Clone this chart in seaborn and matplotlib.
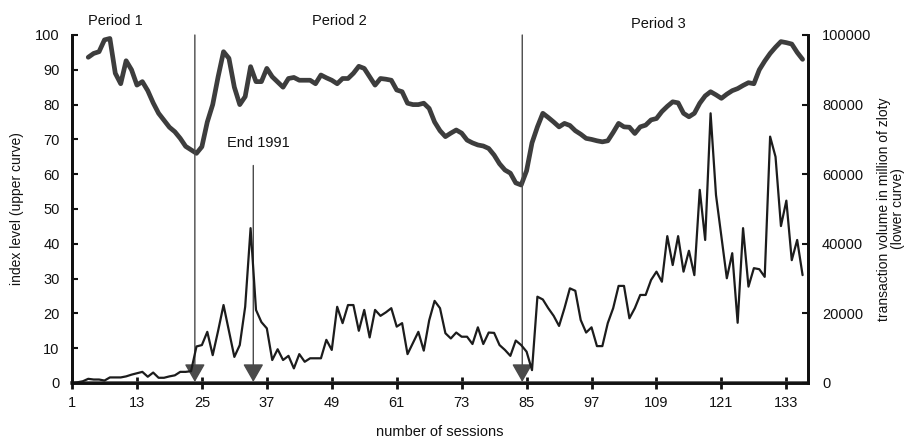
import numpy as np
import pandas as pd
import seaborn as sns
import matplotlib.pyplot as plt

sns.set_theme(style="white")
plt.rcParams['font.family'] = ['Liberation Sans', 'DejaVu Sans']

# ---- data ----
index_sessions = list(range(4, 137))
index_level = [
    93.6, 94.7, 95.2, 98.6, 99.0, 89.0, 86.0, 92.6, 90.0, 85.6,   # 4-13
    86.6, 84.0, 80.5, 77.5, 75.5, 73.5, 72.2, 70.3, 68.0, 67.0,   # 14-23
    66.0, 67.9, 75.0, 80.0, 88.0, 95.2, 93.3, 85.0, 80.0, 82.3,   # 24-33
    90.9, 86.6, 86.6, 90.4, 88.0, 86.5, 85.0, 87.5, 87.8, 87.0,   # 34-43
    87.0, 87.0, 86.0, 88.5, 87.7, 87.0, 86.0, 87.5, 87.5, 89.0,   # 44-53
    91.0, 90.4, 88.0, 85.6, 87.5, 87.3, 87.0, 84.2, 83.7, 80.4,   # 54-63
    80.0, 80.0, 80.4, 78.9, 75.0, 72.5, 70.8, 71.8, 72.7, 71.8,   # 64-73
    69.8, 69.0, 68.4, 68.1, 67.4, 65.5, 63.0, 61.2, 60.3, 57.5,   # 74-83
    56.9, 61.0, 69.0, 73.6, 77.5, 76.3, 75.0, 73.6, 74.6, 74.0,   # 84-93
    72.5, 71.5, 70.3, 70.0, 69.6, 69.3, 69.6, 72.0, 74.6, 73.6,   # 94-103
    73.5, 71.7, 73.6, 74.1, 75.6, 76.0, 78.0, 79.5, 80.8, 80.5,   # 104-113
    77.5, 76.5, 77.5, 80.4, 82.5, 83.7, 82.8, 81.8, 83.0, 84.0,   # 114-123
    84.6, 85.5, 86.3, 86.0, 90.0, 92.5, 94.7, 96.5, 98.1, 97.8,   # 124-133
    97.4, 95.0, 93.0,                                             # 134-136
]
volume_sessions = list(range(1, 137))
volume = [
    0, 200, 500, 1200, 1000, 1000, 700, 1600, 1600, 1600,                 # 1-10
    1900, 2400, 2800, 3200, 1800, 3000, 1500, 1500, 1900, 2200,           # 11-20
    3200, 3200, 3400, 10500, 10900, 14700, 8000, 15000, 22400, 15000,     # 21-30
    7500, 10900, 21900, 44500, 21000, 17500, 15700, 6600, 9700, 6600,     # 31-40
    7800, 4200, 8300, 6100, 7100, 7100, 7100, 12400, 9500, 21900,         # 41-50
    17200, 22400, 22400, 15000, 21000, 13100, 21000, 19300, 20300, 21500, # 51-60
    16200, 17200, 8300, 11500, 14700, 9300, 18000, 23600, 21500, 14300,   # 61-70
    12800, 14500, 13300, 13300, 11200, 16000, 11200, 14500, 14400, 10900, # 71-80
    9500, 7800, 12200, 10900, 9000, 3700, 24800, 24000, 21500, 19300,     # 81-90
    16400, 21500, 27200, 26500, 18100, 14500, 16000, 10600, 10600, 17200, # 91-100
    21500, 27900, 27900, 18600, 21500, 25300, 25300, 29600, 32000, 29100, # 101-110
    42200, 33900, 42200, 32000, 38000, 31000, 55500, 41100, 77500, 54000, # 111-120
    42000, 30100, 37300, 17300, 44500, 27700, 33000, 32700, 30500, 70800, # 121-130
    65000, 45100, 52400, 35300, 41100, 31000,                             # 131-136
]
x_ticks = [1, 13, 25, 37, 49, 61, 73, 85, 97, 109, 121, 133]
left_ticks = [0, 10, 20, 30, 40, 50, 60, 70, 80, 90, 100]
right_ticks = [0, 20000, 40000, 60000, 80000, 100000]
period_labels = ["Period 1", "Period 2", "Period 3"]
period_label_x = [8.95, 50.4, 109.3]
period_label_y = [104.0, 104.0, 103.2]
period_bounds = [23.7, 84.2]
end1991_x = 34.5

df_idx = pd.DataFrame({"session": index_sessions, "index": index_level})
df_vol = pd.DataFrame({"session": volume_sessions, "volume": volume})

W, H = 906, 438
fig = plt.figure(figsize=(W / 100, H / 100), dpi=100)
ax = fig.add_axes([72 / W, 1 - 383 / H, (808 - 72) / W, (383 - 35) / H])
ax2 = ax.twinx()

sns.lineplot(data=df_idx, x="session", y="index", ax=ax, color="#3d3d3d",
             lw=3.4, solid_joinstyle="round")
sns.lineplot(data=df_vol, x="session", y="volume", ax=ax2, color="#1c1c1c",
             lw=1.6)

ax.set_xlim(1, 137)
ax.set_ylim(0, 100)
ax2.set_ylim(0, 100000)
ax.set_xticks(x_ticks)
ax.set_xticklabels([str(t) for t in x_ticks])
ax.set_yticks(left_ticks)
ax2.set_yticks(right_ticks)
ax2.set_yticklabels([str(t) for t in right_ticks])

for a in (ax, ax2):
    a.spines["top"].set_visible(False)
    for s in ("left", "right", "bottom"):
        a.spines[s].set_color("#111111")
        a.spines[s].set_linewidth(2.0)
    a.grid(False)
    a.set_facecolor("none")
ax.spines["bottom"].set_color("#444444")
ax.spines["bottom"].set_linewidth(2.6)

ax.tick_params(axis="y", direction="in", length=4, width=1.5, pad=9,
               labelsize=10.5, colors="#111111", left=True)
ax.tick_params(axis="x", direction="inout", length=9, width=2, pad=5,
               labelsize=10.5, colors="#111111", bottom=True)
ax2.tick_params(axis="y", direction="in", length=4, width=1.5, pad=10,
                labelsize=10.5, colors="#111111", right=True)

ax.set_xlabel("number of sessions", fontsize=10.5, color="#111111",
              labelpad=11)
ax.set_ylabel("index level (upper curve)", fontsize=10, color="#111111",
              labelpad=8)
ax2.set_ylabel("transaction volume in million of zloty\n(lower curve)",
               fontsize=10, color="#111111", labelpad=4, linespacing=1.0)

# boundary arrows
arrow_kw = dict(arrowstyle="-|>,head_length=0.7,head_width=0.4",
                color="#4a4a4a", lw=1.0, mutation_scale=16,
                shrinkA=0, shrinkB=0)
for bx in period_bounds:
    ax.annotate("", xy=(bx, 0.3), xytext=(bx, 100), arrowprops=arrow_kw,
                annotation_clip=False)
ax.annotate("", xy=(end1991_x, 0.3), xytext=(end1991_x, 62.5),
            arrowprops=arrow_kw)
ax.text(35.4, 69, "End 1991", ha="center", va="center", fontsize=10.5,
        color="#111111")

for lab, lx, ly in zip(period_labels, period_label_x, period_label_y):
    ax.text(lx, ly, lab, ha="center", va="center", fontsize=10.5,
            color="#111111", clip_on=False)

fig.savefig("out.png", dpi=100, facecolor="white")
